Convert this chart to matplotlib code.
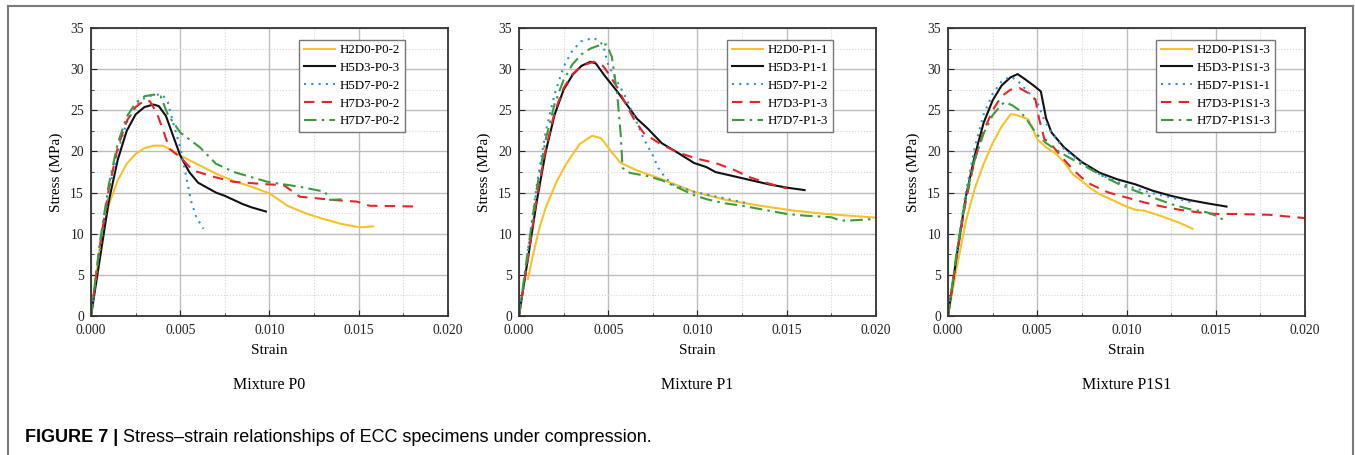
import matplotlib
matplotlib.use("Agg")
import matplotlib.pyplot as plt
from matplotlib.lines import Line2D
from matplotlib.ticker import MultipleLocator, FormatStrFormatter

plt.rcParams['font.family'] = ['Liberation Serif', 'DejaVu Serif']

# ---- Mixture P0 ----
p0_h2d0_x = [0, 0.0005, 0.001, 0.0015, 0.002, 0.0025, 0.003, 0.0035, 0.004, 0.0045, 0.005, 0.006, 0.007, 0.008, 0.009, 0.010, 0.011, 0.012, 0.013, 0.014, 0.015, 0.0153, 0.0158]
p0_h2d0_y = [0, 8.5, 13.5, 16.5, 18.5, 19.7, 20.4, 20.7, 20.7, 20.2, 19.5, 18.4, 17.3, 16.4, 15.7, 14.9, 13.4, 12.5, 11.8, 11.2, 10.8, 10.8, 10.9]
p0_h5d3_x = [0, 0.0005, 0.001, 0.0015, 0.002, 0.0025, 0.003, 0.0035, 0.0038, 0.0042, 0.0045, 0.005, 0.0055, 0.006, 0.0065, 0.007, 0.0075, 0.008, 0.0085, 0.009, 0.0098]
p0_h5d3_y = [0, 7, 14, 19, 22.5, 24.5, 25.4, 25.7, 25.5, 24.3, 22.5, 19.5, 17.5, 16.2, 15.6, 15.0, 14.6, 14.1, 13.6, 13.2, 12.7]
p0_h5d7_x = [0, 0.0005, 0.001, 0.0015, 0.002, 0.0025, 0.003, 0.0035, 0.004, 0.0043, 0.0046, 0.005, 0.0053, 0.0056, 0.0059, 0.0063]
p0_h5d7_y = [0, 8, 15, 20, 23.5, 25.5, 26.5, 26.9, 26.9, 26, 23.5, 20.5, 17.3, 14, 12, 10.6]
p0_h7d3_x = [0, 0.0005, 0.001, 0.0015, 0.002, 0.0025, 0.003, 0.0033, 0.0037, 0.0041, 0.0044, 0.005, 0.0057, 0.0069, 0.008, 0.0099, 0.0108, 0.0117, 0.0136, 0.0149, 0.0156, 0.0184]
p0_h7d3_y = [0, 8.5, 15.5, 20.5, 23.7, 25.4, 26.2, 26.1, 24.6, 22.2, 20.3, 19.3, 17.7, 16.9, 16.3, 16.0, 15.9, 14.5, 14.1, 13.9, 13.4, 13.3]
p0_h7d7_x = [0, 0.0005, 0.001, 0.0015, 0.002, 0.0025, 0.003, 0.0035, 0.0039, 0.0043, 0.005, 0.0061, 0.007, 0.008, 0.0099, 0.0117, 0.0131, 0.0134, 0.0141]
p0_h7d7_y = [0, 9, 16, 21, 24.2, 25.9, 26.7, 26.9, 26.7, 24.5, 22.3, 20.5, 18.5, 17.5, 16.3, 15.7, 15.1, 14.1, 14.2]

# ---- Mixture P1 ----
p1_h2d0_x = [0.0005, 0.0008, 0.00116, 0.0015, 0.0021, 0.00265, 0.0034, 0.0041, 0.0046, 0.0052, 0.0057, 0.0066, 0.0079, 0.0098, 0.0116, 0.0135, 0.0154, 0.0172, 0.020]
p1_h2d0_y = [4.5, 7.6, 10.8, 13.2, 16.3, 18.5, 20.9, 21.9, 21.6, 19.9, 18.6, 17.7, 16.7, 15.1, 14.1, 13.4, 12.8, 12.4, 11.95]
p1_h5d3_x = [0, 0.0005, 0.001, 0.0015, 0.002, 0.0025, 0.003, 0.0035, 0.004, 0.0043, 0.0048, 0.0055, 0.006, 0.0066, 0.0072, 0.008, 0.009, 0.0098, 0.0105, 0.011, 0.012, 0.013, 0.014, 0.015, 0.016]
p1_h5d3_y = [0, 7, 14, 20, 24.5, 27.5, 29.3, 30.4, 30.9, 30.7, 29.2, 27.3, 25.8, 24, 22.8, 21, 19.7, 18.6, 18.1, 17.5, 17, 16.5, 16, 15.6, 15.3]
p1_h5d7_x = [0, 0.0005, 0.001, 0.0015, 0.002, 0.0025, 0.003, 0.0035, 0.0042, 0.0047, 0.005, 0.0055, 0.006, 0.0065, 0.007, 0.0075, 0.0078, 0.0082, 0.0086, 0.0098, 0.0115, 0.0128]
p1_h5d7_y = [0, 8, 16, 22.5, 27, 30.3, 32.3, 33.4, 33.8, 33, 30.5, 28.5, 26.5, 24, 21.5, 19.5, 18, 16.8, 16.0, 15.1, 14.3, 13.7]
p1_h7d3_x = [0, 0.0005, 0.001, 0.0015, 0.002, 0.0025, 0.003, 0.0035, 0.0042, 0.0047, 0.005, 0.0055, 0.006, 0.0065, 0.007, 0.008, 0.009, 0.010, 0.011, 0.012, 0.013, 0.014, 0.015]
p1_h7d3_y = [0, 7, 14.5, 20.3, 24.8, 27.7, 29.4, 30.4, 30.9, 30.4, 29.5, 27.8, 25.7, 23.7, 22.2, 20.8, 19.8, 19.1, 18.6, 17.8, 16.8, 16.1, 15.5]
p1_h7d7_x = [0, 0.0005, 0.001, 0.0015, 0.002, 0.0025, 0.003, 0.0035, 0.004, 0.0045, 0.0049, 0.0052, 0.0055, 0.0057, 0.0058, 0.0062, 0.0072, 0.008, 0.009, 0.0098, 0.0105, 0.0115, 0.0125, 0.0135, 0.015, 0.016, 0.0175, 0.018, 0.0185, 0.020]
p1_h7d7_y = [0, 8, 15.5, 21.5, 25.8, 28.7, 30.6, 31.8, 32.5, 32.9, 33, 31.5, 27, 22, 18, 17.4, 17, 16.5, 15.5, 14.7, 14.2, 13.7, 13.4, 13, 12.4, 12.2, 12, 11.6, 11.6, 11.8]

# ---- Mixture P1S1 ----
p1s1_h2d0_x = [0, 0.0005, 0.001, 0.0015, 0.002, 0.0025, 0.003, 0.0035, 0.0037, 0.004, 0.0045, 0.005, 0.0055, 0.006, 0.0065, 0.007, 0.0075, 0.008, 0.0085, 0.009, 0.0095, 0.010, 0.0105, 0.011, 0.012, 0.013, 0.0137]
p1s1_h2d0_y = [0, 6, 11.5, 15.5, 18.5, 21, 23, 24.5, 24.5, 24.3, 23.9, 21.5, 20.5, 19.8, 18.7, 17.2, 16.4, 15.5, 14.8, 14.3, 13.8, 13.3, 12.9, 12.8, 12.1, 11.3, 10.6]
p1s1_h5d3_x = [0, 0.0005, 0.001, 0.0015, 0.002, 0.0025, 0.003, 0.0035, 0.0039, 0.0043, 0.0048, 0.0052, 0.0055, 0.0058, 0.0065, 0.0075, 0.0085, 0.0095, 0.0105, 0.0115, 0.0125, 0.0135, 0.0145, 0.0156]
p1s1_h5d3_y = [0, 7.5, 14.5, 19.5, 23.5, 26.2, 28, 29, 29.4, 28.8, 28, 27.3, 24, 22.3, 20.5, 18.7, 17.4, 16.6, 16, 15.2, 14.6, 14.1, 13.7, 13.3]
p1s1_h5d7_x = [0, 0.0005, 0.001, 0.0015, 0.002, 0.0025, 0.003, 0.0035, 0.0039, 0.0045, 0.005, 0.0054, 0.0058, 0.0065, 0.0075, 0.0085, 0.0095, 0.0105, 0.0115, 0.0125, 0.0137]
p1s1_h5d7_y = [0, 8, 15, 20.5, 24.5, 27, 28.5, 29.1, 28.6, 27.2, 26, 23.8, 22.3, 20.3, 18.6, 17.2, 16.3, 15.5, 14.9, 14.4, 13.8]
p1s1_h7d3_x = [0, 0.0005, 0.001, 0.0015, 0.002, 0.0025, 0.003, 0.0035, 0.004, 0.0045, 0.0049, 0.0051, 0.0054, 0.0058, 0.0065, 0.007, 0.0075, 0.008, 0.009, 0.010, 0.011, 0.012, 0.013, 0.014, 0.015, 0.016, 0.018, 0.020]
p1s1_h7d3_y = [0, 7.5, 14, 19, 22.5, 25, 26.7, 27.5, 27.7, 27.1, 26.3, 24, 21.5, 20.8, 19, 17.8, 16.8, 16, 15, 14.4, 13.8, 13.3, 12.9, 12.6, 12.4, 12.4, 12.3, 11.9]
p1s1_h7d7_x = [0, 0.0005, 0.001, 0.0015, 0.002, 0.0025, 0.003, 0.0032, 0.0036, 0.004, 0.0045, 0.005, 0.0055, 0.0065, 0.0075, 0.0085, 0.0095, 0.0105, 0.0115, 0.0125, 0.0135, 0.0145, 0.015, 0.0156]
p1s1_h7d7_y = [0, 8, 14.5, 19, 22.2, 24.4, 25.7, 26, 25.6, 25, 23.6, 22, 21, 19.6, 18.4, 17.2, 16.1, 15.2, 14.4, 13.6, 13, 12.6, 12.2, 11.5]

panels = [
    ("Mixture P0", [("H2D0-P0-2", p0_h2d0_x, p0_h2d0_y), ("H5D3-P0-3", p0_h5d3_x, p0_h5d3_y),
                    ("H5D7-P0-2", p0_h5d7_x, p0_h5d7_y), ("H7D3-P0-2", p0_h7d3_x, p0_h7d3_y),
                    ("H7D7-P0-2", p0_h7d7_x, p0_h7d7_y)]),
    ("Mixture P1", [("H2D0-P1-1", p1_h2d0_x, p1_h2d0_y), ("H5D3-P1-1", p1_h5d3_x, p1_h5d3_y),
                    ("H5D7-P1-2", p1_h5d7_x, p1_h5d7_y), ("H7D3-P1-3", p1_h7d3_x, p1_h7d3_y),
                    ("H7D7-P1-3", p1_h7d7_x, p1_h7d7_y)]),
    ("Mixture P1S1", [("H2D0-P1S1-3", p1s1_h2d0_x, p1s1_h2d0_y), ("H5D3-P1S1-3", p1s1_h5d3_x, p1s1_h5d3_y),
                      ("H5D7-P1S1-1", p1s1_h5d7_x, p1s1_h5d7_y), ("H7D3-P1S1-3", p1s1_h7d3_x, p1s1_h7d3_y),
                      ("H7D7-P1S1-3", p1s1_h7d7_x, p1s1_h7d7_y)]),
]

styles = [
    dict(color="#F6C22A", linestyle="-"),
    dict(color="#111111", linestyle="-"),
    dict(color="#2F8FE8", linestyle=(0, (1, 2.5))),
    dict(color="#E3262C", linestyle=(0, (5, 3.5))),
    dict(color="#3D9B3D", linestyle=(0, (6, 2.5, 1.2, 2.5))),
]

fig = plt.figure(figsize=(13.55, 4.55), dpi=100)
lefts = [91, 519, 948]

for left, (title, series) in zip(lefts, panels):
    ax = fig.add_axes([left / 1355, 139 / 455, 357 / 1355, 288 / 455])
    for (name, xs, ys), st in zip(series, styles):
        ax.plot(xs, ys, lw=1.5, label=name, **st)
    ax.set_xlim(0, 0.02)
    ax.set_ylim(0, 35)
    ax.xaxis.set_major_locator(MultipleLocator(0.005))
    ax.xaxis.set_minor_locator(MultipleLocator(0.0025))
    ax.yaxis.set_major_locator(MultipleLocator(5))
    ax.yaxis.set_minor_locator(MultipleLocator(2.5))
    ax.xaxis.set_major_formatter(FormatStrFormatter("%.3f"))
    ax.grid(which="major", color="#bdbdbd", lw=1.0, ls="-")
    ax.grid(which="minor", color="#d6d6d6", lw=0.8, ls=":")
    ax.set_axisbelow(True)
    ax.tick_params(which="both", direction="in", labelsize=9.8, colors="#222222")
    ax.tick_params(which="major", length=4)
    ax.tick_params(which="minor", length=2.5)
    ax.tick_params(axis="x", pad=6)
    ax.tick_params(axis="y", pad=5)
    for sp in ax.spines.values():
        sp.set_linewidth(1.3)
        sp.set_color("#333333")
    ax.set_xlabel("Strain", fontsize=11, labelpad=5)
    ax.set_ylabel("Stress (MPa)", fontsize=11, labelpad=5)
    ax.text(0.5, -0.24, title, transform=ax.transAxes, ha="center", va="center", fontsize=11.5)
    leg = ax.legend(loc="upper left", bbox_to_anchor=(0.583, 0.96), fontsize=9.3,
                    frameon=True, fancybox=False, edgecolor="#777777", framealpha=1,
                    handlelength=2.4, handletextpad=0.4, borderpad=0.35, labelspacing=0.45,
                    borderaxespad=0)
    leg.get_frame().set_linewidth(1.0)

# outer frame of the figure panel
fr = "#7a7a7a"
fig.add_artist(Line2D([8 / 1355, 8 / 1355], [0, 1 - 6 / 455], color=fr, lw=1.5, transform=fig.transFigure))
fig.add_artist(Line2D([8 / 1355, 1353 / 1355], [1 - 6 / 455, 1 - 6 / 455], color=fr, lw=1.5, transform=fig.transFigure))
fig.add_artist(Line2D([1353 / 1355, 1353 / 1355], [0, 1 - 6 / 455], color=fr, lw=1.5, transform=fig.transFigure))

cap_font = ['Liberation Sans', 'DejaVu Sans']
t1 = fig.text(25 / 1355, 1 - 442 / 455, "FIGURE 7 | ", fontsize=13.0, fontweight="bold",
              family=cap_font, va="baseline")
r = fig.canvas.get_renderer()
bb = t1.get_window_extent(renderer=r)
fig.text(bb.x1 / 1355, 1 - 442 / 455, "Stress\u2013strain relationships of ECC specimens under compression.",
         fontsize=13.0, family=cap_font, va="baseline")

fig.savefig("out.png", dpi=100)
